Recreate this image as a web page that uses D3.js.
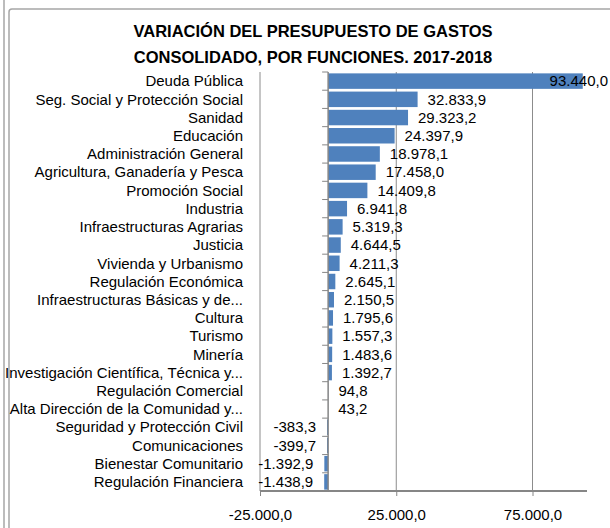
<!DOCTYPE html>
<html>
<head>
<meta charset="utf-8">
<script src="https://cdnjs.cloudflare.com/ajax/libs/d3/7.8.5/d3.min.js"></script>
<style>
  body { margin: 0; background: #fff; }
  svg text { font-family: "Liberation Sans", Arial, sans-serif; fill: #000; }
</style>
</head>
<body>
<div id="chart"></div>
<script>
'use strict';

var titleLines = ['VARIACIÓN DEL PRESUPUESTO DE GASTOS', 'CONSOLIDADO, POR FUNCIONES. 2017-2018']

var categories = [
  'Deuda Pública', 'Seg. Social y Protección Social', 'Sanidad', 'Educación',
  'Administración General', 'Agricultura, Ganadería y Pesca', 'Promoción Social',
  'Industria', 'Infraestructuras Agrarias', 'Justicia', 'Vivienda y Urbanismo',
  'Regulación Económica', 'Infraestructuras Básicas y de...', 'Cultura', 'Turismo',
  'Minería', 'Investigación Científica, Técnica y...', 'Regulación Comercial',
  'Alta Dirección de la Comunidad y...', 'Seguridad y Protección Civil',
  'Comunicaciones', 'Bienestar Comunitario', 'Regulación Financiera'
]

var values = [
  93440.0, 32833.9, 29323.2, 24397.9, 18978.1, 17458.0, 14409.8, 6941.8,
  5319.3, 4644.5, 4211.3, 2645.1, 2150.5, 1795.6, 1557.3, 1483.6, 1392.7,
  94.8, 43.2, -383.3, -399.7, -1392.9, -1438.9
]

var xTicks = [-25000, 25000, 75000]
var xDomain = [-25000, 95000]

var W = 610, H = 528
var plot = {left: 260, right: 587, top: 72, bottom: 491}
var chartRight = 608

var es = d3.formatLocale({decimal: ',', thousands: '.', grouping: [3], currency: ['', ' €'], minus: '-'})
var fmt = es.format(',.1f')

var svg = d3.select('#chart').append('svg')
    .attr('width', W)
    .attr('height', H)

// marco de la hoja
svg.append('line')
    .attr('x1', 4).attr('x2', 4).attr('y1', 0).attr('y2', H)
    .style('stroke', '#a6a6a6').style('stroke-width', 1.5)
svg.append('rect')
    .attr('x', 9).attr('y', 9).attr('rx', 3)
    .attr('width', W + 20).attr('height', H + 20)
    .style('fill', 'none').style('stroke', '#a6a6a6').style('stroke-width', 1.5)

var x = d3.scaleLinear().domain(xDomain).range([plot.left, plot.right])
var y = d3.scaleBand().domain(categories).range([plot.top, plot.bottom])
    .paddingInner(0.15).paddingOuter(0.075)

svg.selectAll('.title')
    .data(titleLines)
  .enter().append('text')
    .attr('class', 'title')
    .attr('x', 313)
    .attr('y', function(d, i) { return 31 + i * 26 })
    .attr('dy', '0.35em')
    .attr('text-anchor', 'middle')
    .style('font-size', '16.5px')
    .style('font-weight', 'bold')
    .text(function(d) { return d })

// rejilla vertical
svg.selectAll('.grid')
    .data(xTicks)
  .enter().append('line')
    .attr('class', 'grid')
    .attr('x1', function(d) { return x(d) })
    .attr('x2', function(d) { return x(d) })
    .attr('y1', plot.top)
    .attr('y2', plot.bottom)
    .style('stroke', '#8c8c8c')
    .style('stroke-width', 1)

svg.selectAll('.bar')
    .data(values)
  .enter().append('rect')
    .attr('class', 'bar')
    .attr('x', function(d) { return x(Math.min(0, d)) })
    .attr('y', function(d, i) { return y(categories[i]) })
    .attr('width', function(d) { return Math.abs(x(d) - x(0)) })
    .attr('height', y.bandwidth())
    .style('fill', '#4f81bd')

// eje x
var xAxis = svg.append('g')
    .attr('transform', 'translate(0,' + plot.bottom + ')')
    .call(d3.axisBottom(x).tickValues(xTicks).tickSize(5).tickPadding(13).tickFormat(fmt))
xAxis.select('.domain').attr('d', 'M' + plot.left + ',0H' + plot.right)
    .style('stroke', '#868686').style('stroke-width', 2)
xAxis.selectAll('line').style('stroke', '#868686')
xAxis.selectAll('text')
    .style('font-size', '15px')

// eje de categorías en el cero
var yAxis = svg.append('g')
    .attr('transform', 'translate(' + x(0) + ',0)')
yAxis.append('line')
    .attr('y1', plot.top).attr('y2', plot.bottom)
    .style('stroke', '#868686').style('stroke-width', 1.5)
var edges = categories.map(function(c) { return y(c) - y.step() * y.paddingInner() / 2 })
edges.push(plot.bottom)
yAxis.selectAll('.tk')
    .data(edges)
  .enter().append('line')
    .attr('class', 'tk')
    .attr('x1', -6).attr('x2', 0)
    .attr('y1', function(d) { return d }).attr('y2', function(d) { return d })
    .style('stroke', '#868686')

svg.selectAll('.cat')
    .data(categories)
  .enter().append('text')
    .attr('class', 'cat')
    .attr('x', 243)
    .attr('y', function(d) { return y(d) + y.bandwidth() / 2 })
    .attr('dy', '0.35em')
    .attr('text-anchor', 'end')
    .style('font-size', '15px')
    .text(function(d) { return d })

svg.selectAll('.val')
    .data(values)
  .enter().append('text')
    .attr('class', 'val')
    .attr('y', function(d, i) { return y(categories[i]) + y.bandwidth() / 2 })
    .attr('dy', '0.35em')
    .attr('text-anchor', function(d) { return d < 0 ? 'end' : 'start' })
    .style('font-size', '15px')
    .text(function(d) { return fmt(d) })
    .attr('x', function(d) {
      if (d < 0) return x(d) - 11
      var w = this.getComputedTextLength()
      return Math.min(x(d) + 10, chartRight - w)
    })
</script>
</body>
</html>
